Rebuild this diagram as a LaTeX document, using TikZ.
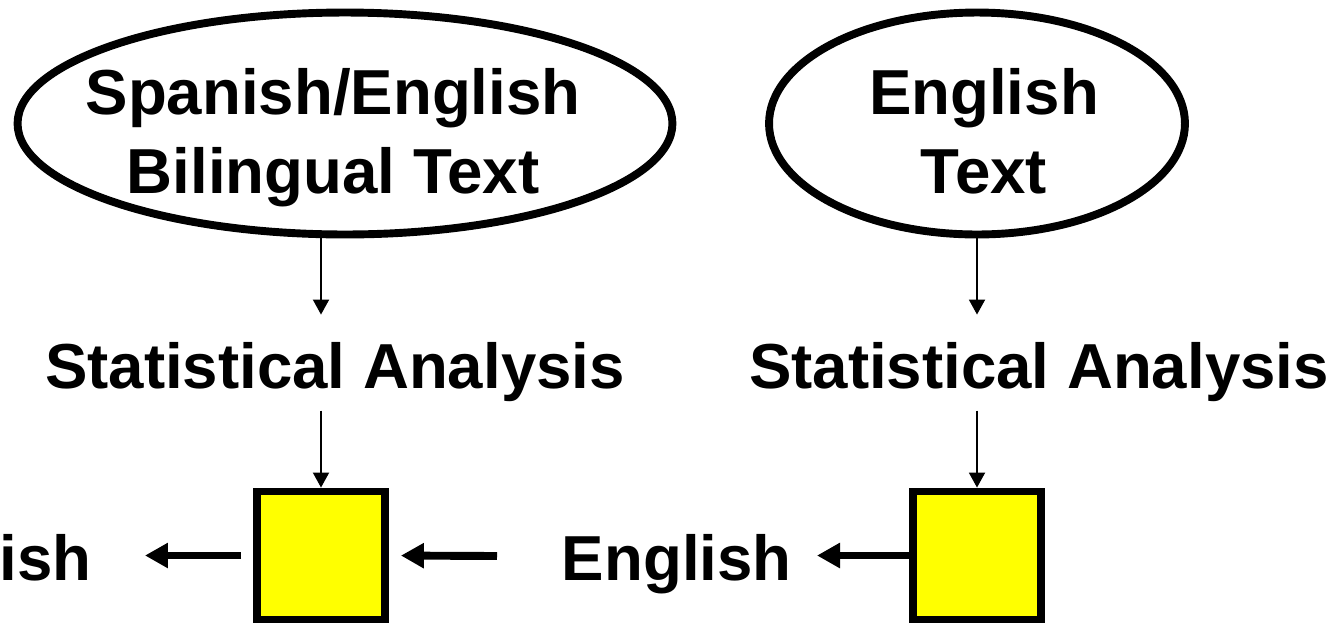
\documentclass[tikz,border=0pt]{standalone}
\usepackage{fontspec}
\setmainfont{Liberation Sans}
\usetikzlibrary{arrows.meta,shapes.geometric}
\definecolor{boxyellow}{RGB}{255,255,0}
\begin{document}
\begin{tikzpicture}[x=0.02cm,y=-0.02cm,
  font=\fontsize{36.2}{44.4}\selectfont\bfseries,
  oval/.style={ellipse,draw,line width=4.5pt,inner sep=0pt,minimum height=4.44cm},
  lbl/.style={anchor=base,inner sep=0pt,align=center},
  tally/.style={draw,line width=4.5pt,fill=boxyellow,minimum size=2.56cm,inner sep=0pt},
  feed/.style={-{Triangle[length=0.3cm,width=0.32cm]},line width=1.1pt},
  pull/.style={-{Triangle[length=0.46cm,width=0.48cm]},line width=4.5pt}]
  \useasboundingbox (0,0) rectangle (1335,623);
  \node[oval,minimum width=13.1cm] (ovalL) at (345,123.5) {};
  \node[oval,minimum width=8.32cm] (ovalR) at (977,123.5) {};
  \node[lbl] (txtL) at (333,193) {Spanish/English\\Bilingual Text};
  \node[lbl] (txtR) at (984,193) {English\\Text};
  \node[lbl] (statL) at (335,388) {Statistical Analysis};
  \node[lbl] (statR) at (1039,388) {Statistical Analysis};
  \node[tally] (boxL) at (321,555.5) {};
  \node[tally] (boxR) at (977,555.5) {};
  \node[lbl,anchor=base east] (ish) at (92,580) {ish};
  \node[lbl,anchor=base east] (eng) at (792,580) {English};
  \coordinate (inL) at (497,556);
  % down the two columns
  \draw[feed,shorten >=0.54cm] (ovalL.south -| boxL.north) -- (statL.north -| boxL.north);
  \draw[feed] (statL.south -| boxL.north) ++(0,9) -- (boxL.north);
  \draw[feed,shorten >=0.54cm] (ovalR.south -| boxR.north) -- (statR.north -| boxR.north);
  \draw[feed] (statR.south -| boxR.north) ++(0,9) -- (boxR.north);
  % sideways
  \draw[pull,shorten <=0.24cm,shorten >=1.06cm] (boxL.west) -- (ish.east |- boxL.west);
  \draw[pull,shorten >=0.24cm] (inL) -- (boxL.east);
  \draw[pull,shorten >=0.5cm] (boxR.west) -- (eng.east |- boxR.west);
\end{tikzpicture}
\end{document}
